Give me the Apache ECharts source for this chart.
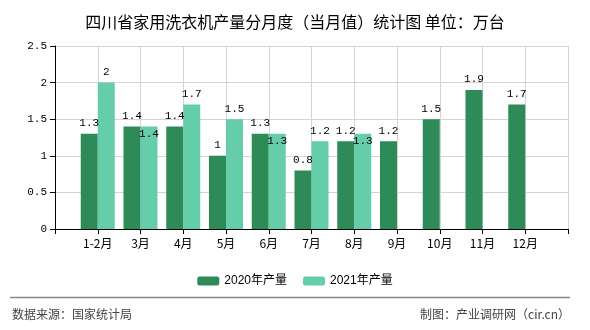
<!DOCTYPE html>
<html>
<head>
<meta charset="utf-8">
<script src="https://cdn.jsdelivr.net/npm/echarts@6/dist/echarts.min.js"></script>
<style>
  html, body { margin: 0; padding: 0; background: #fff; }
  #chart { width: 590px; height: 330px; }
</style>
</head>
<body>
<div id="chart"></div>
<script>
// Monthly washing machine output, Sichuan (10k units)
const months = ['1-2月', '3月', '4月', '5月', '6月', '7月', '8月', '9月', '10月', '11月', '12月'];
const output2020 = [1.3, 1.4, 1.4, 1.0, 1.3, 0.8, 1.2, 1.2, 1.5, 1.9, 1.7];
const output2021 = [2.0, 1.4, 1.7, 1.5, 1.3, 1.2, 1.3];
const seriesNames = ['2020年产量', '2021年产量'];
const yTicks = { min: 0, max: 2.5, step: 0.5 };

// Axis has an empty slot at both ends so month ticks sit on the grid lines
const axisCats = [''].concat(months, ['']);
const pad = (arr) => [null].concat(months.map((_, i) => (i < arr.length ? arr[i] : null)), [null]);

const labelFont = { fontFamily: 'Liberation Mono, monospace', fontSize: 11, color: '#000' };

// 2021 labels move inside the bar when they would collide with the 2020 label
const data2021 = pad(output2021).map((v, i) => {
  if (v == null) return '-';
  const prev = output2020[i - 1];
  const close = prev != null && Math.abs(v - prev) < 0.2;
  return close ? { value: v, label: { position: 'insideTop', distance: 2 } } : v;
});
const data2020 = pad(output2020).map(v => (v == null ? '-' : v));

const chart = echarts.init(document.getElementById('chart'), null, { renderer: 'canvas' });
chart.setOption({
  backgroundColor: '#fff',
  animation: false,
  title: {
    text: '四川省家用洗衣机产量分月度（当月值）统计图 单位：万台',
    left: 'center',
    top: 9,
    textStyle: { fontFamily: 'Noto Sans CJK SC', fontSize: 16, fontWeight: 'normal', color: '#000' }
  },
  legend: {
    data: seriesNames,
    left: 'center',
    top: 270,
    itemWidth: 22,
    itemHeight: 9,
    itemGap: 16,
    textStyle: { fontFamily: 'Liberation Sans, Noto Sans CJK SC', fontSize: 12, color: '#000' }
  },
  grid: { left: 55, right: 22, top: 46, bottom: 101, containLabel: false },
  xAxis: {
    type: 'category',
    data: axisCats,
    boundaryGap: false,
    axisLine: { lineStyle: { color: '#000', width: 1 } },
    axisTick: { show: true, length: 5, lineStyle: { color: '#000' } },
    axisLabel: { margin: 8, fontFamily: 'Noto Sans CJK SC', fontSize: 12, color: '#000', interval: 0 },
    splitLine: { show: true, lineStyle: { color: '#d4d4d4', width: 1 } }
  },
  yAxis: {
    type: 'value',
    min: yTicks.min,
    max: yTicks.max,
    interval: yTicks.step,
    axisLine: { show: true, lineStyle: { color: '#000', width: 1 } },
    axisTick: { show: true, length: 5, lineStyle: { color: '#000' } },
    axisLabel: { margin: 8, fontFamily: 'Liberation Mono, monospace', fontSize: 11, color: '#000' },
    splitLine: { show: true, lineStyle: { color: '#d4d4d4', width: 1 } }
  },
  series: [
    {
      name: seriesNames[0],
      type: 'bar',
      data: data2020,
      barWidth: 17,
      barGap: '0%',
      itemStyle: { color: '#2e8b57' },
      label: Object.assign({ show: true, position: 'top', distance: 5 }, labelFont)
    },
    {
      name: seriesNames[1],
      type: 'bar',
      data: data2021,
      barWidth: 17,
      barGap: '0%',
      itemStyle: { color: '#66cdaa' },
      label: Object.assign({ show: true, position: 'top', distance: 5 }, labelFont)
    }
  ],
  graphic: [
    {
      type: 'line',
      shape: { x1: 10, y1: 297.5, x2: 570, y2: 297.5 },
      style: { stroke: '#888', lineWidth: 1.5 }
    },
    {
      type: 'text',
      left: 12,
      top: 308,
      style: { text: '数据来源：国家统计局', fontFamily: 'Noto Sans CJK SC', fontSize: 12, fill: '#444' }
    },
    {
      type: 'text',
      right: 20,
      top: 308,
      style: { text: '制图：产业调研网（cir.cn）', fontFamily: 'Noto Sans CJK SC', fontSize: 12, fill: '#444' }
    }
  ]
});
</script>
</body>
</html>
